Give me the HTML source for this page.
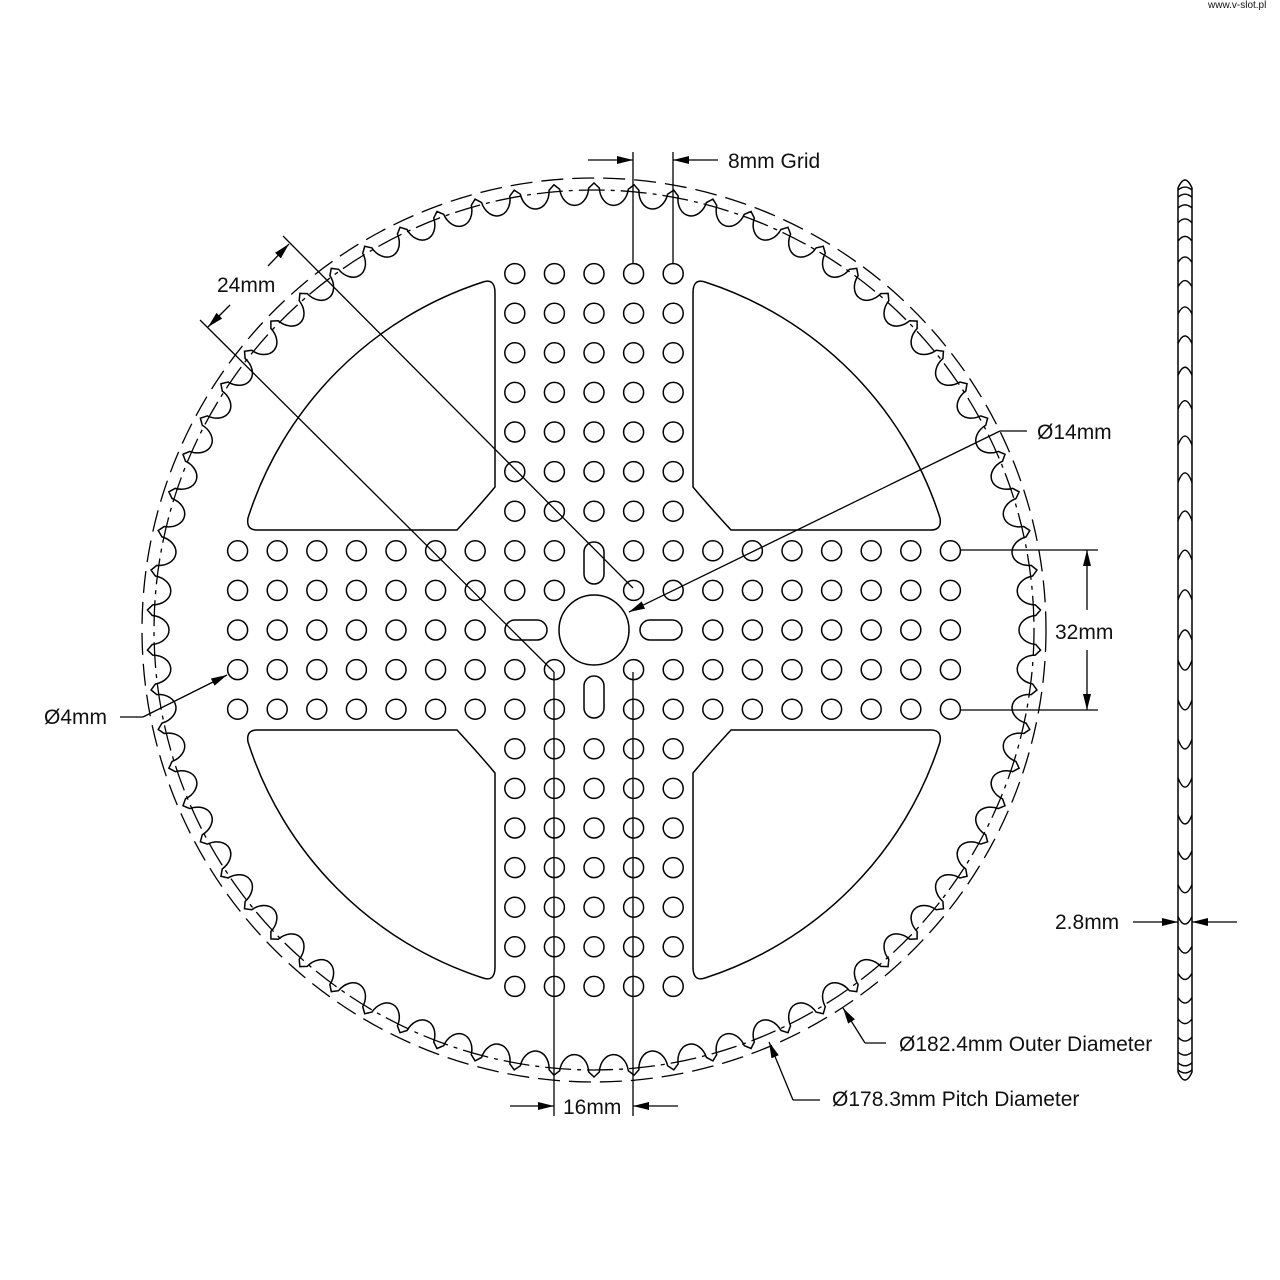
<!DOCTYPE html>
<html><head><meta charset="utf-8">
<style>
html,body{margin:0;padding:0;background:#fff;}
svg{display:block;}
text{font-family:"Liberation Sans",sans-serif;fill:#111;}
</style></head>
<body>
<svg id="s" width="1280" height="1280" viewBox="0 0 1280 1280" xmlns="http://www.w3.org/2000/svg">
<defs>
<marker id="ar" viewBox="0 0 16 8" refX="16" refY="4" markerWidth="16" markerHeight="8" markerUnits="userSpaceOnUse" orient="auto">
<path d="M0,0 L16,4 L0,8 Z" fill="#000"/>
</marker>
</defs>
<g id="main" fill="none" stroke="#000" stroke-width="1.5">
<circle cx="594" cy="630" r="452" stroke-dasharray="22 9" stroke-width="1.3"/>
<circle cx="594" cy="630" r="440" stroke-dasharray="26 6 4 6" stroke-width="1.3"/>
<path id="teeth" d=""/>
<circle cx="594" cy="630" r="35"/>
<rect x="584" y="542" width="20" height="42" rx="10"/>
<rect x="584" y="676" width="20" height="42" rx="10"/>
<rect x="505" y="620" width="42" height="20" rx="10"/>
<rect x="640" y="620" width="42" height="20" rx="10"/>
<g><path d="M483,282 Q495,278 495,293 L495,487 Q480,505 457,530 L257,530 Q246,530 248,518 A365,365 0 0 1 483,282 Z"/></g>
<g transform="translate(1188,0) scale(-1,1)"><path d="M483,282 Q495,278 495,293 L495,487 Q480,505 457,530 L257,530 Q246,530 248,518 A365,365 0 0 1 483,282 Z"/></g>
<g transform="translate(0,1260) scale(1,-1)"><path d="M483,282 Q495,278 495,293 L495,487 Q480,505 457,530 L257,530 Q246,530 248,518 A365,365 0 0 1 483,282 Z"/></g>
<g transform="translate(1188,1260) scale(-1,-1)"><path d="M483,282 Q495,278 495,293 L495,487 Q480,505 457,530 L257,530 Q246,530 248,518 A365,365 0 0 1 483,282 Z"/></g>
<g id="holes"></g>
<path d="M1178,1072 L1178,188 Q1185,172 1192,188 L1192,1072 Q1185,1088 1178,1072 Z"/>
<g id="side" stroke-width="1.4"></g>
</g>
<g fill="none" stroke="#000" stroke-width="1.3">
<line x1="633" y1="152" x2="633" y2="263"/>
<line x1="673" y1="152" x2="673" y2="263"/>
<line x1="588" y1="160" x2="633" y2="160" marker-end="url(#ar)"/>
<line x1="718" y1="160" x2="673" y2="160" marker-end="url(#ar)"/>
<line x1="283" y1="236" x2="633" y2="588"/>
<line x1="200" y1="320" x2="554" y2="672"/>
<line x1="268" y1="266" x2="289" y2="244" marker-end="url(#ar)"/>
<line x1="230" y1="305" x2="208" y2="327" marker-end="url(#ar)"/>
<line x1="1027" y1="431" x2="1000" y2="431"/>
<line x1="1000" y1="431" x2="629" y2="612" marker-end="url(#ar)"/>
<line x1="960" y1="550" x2="1098" y2="550"/>
<line x1="960" y1="710" x2="1098" y2="710"/>
<line x1="1087" y1="610" x2="1087" y2="550" marker-end="url(#ar)"/>
<line x1="1087" y1="650" x2="1087" y2="710" marker-end="url(#ar)"/>
<line x1="120" y1="717" x2="143" y2="717"/>
<line x1="143" y1="717" x2="227" y2="675" marker-end="url(#ar)"/>
<line x1="554" y1="672" x2="554" y2="1116"/>
<line x1="633" y1="672" x2="633" y2="1116"/>
<line x1="510" y1="1106" x2="554" y2="1106" marker-end="url(#ar)"/>
<line x1="678" y1="1106" x2="633" y2="1106" marker-end="url(#ar)"/>
<line x1="865" y1="1043" x2="843" y2="1008" marker-end="url(#ar)"/>
<line x1="865" y1="1043" x2="886" y2="1043"/>
<line x1="793" y1="1100" x2="769" y2="1042" marker-end="url(#ar)"/>
<line x1="793" y1="1100" x2="820" y2="1100"/>
<line x1="1133" y1="922" x2="1178" y2="922" marker-end="url(#ar)"/>
<line x1="1237" y1="922" x2="1192" y2="922" marker-end="url(#ar)"/>
</g>
<g font-size="21">
<text x="728" y="168">8mm Grid</text>
<text x="217" y="292">24mm</text>
<text x="1037" y="439">Ø14mm</text>
<text x="1055" y="639">32mm</text>
<text x="44" y="724">Ø4mm</text>
<text x="563" y="1114">16mm</text>
<text x="899" y="1051">Ø182.4mm Outer Diameter</text>
<text x="832" y="1106">Ø178.3mm Pitch Diameter</text>
<text x="1055" y="929">2.8mm</text>
</g>
<text x="1208" y="8" font-size="10" fill="#555">www.v-slot.pl</text>
</svg>
<script>
(function(){
var NS="http://www.w3.org/2000/svg",cx=594,cy=630,N=70;
function P(r,t){return [cx+r*Math.sin(t),cy-r*Math.cos(t)];}
var step=2*Math.PI/N,d="",rT=447,rE=442,hw=14.5;
var a=hw/rE;
for(var k=0;k<N;k++){
  var t=k*step, tc=t+step/2;
  var p0=P(rT,t), p1=P(rE,tc-a), p2=P(rE,tc+a);
  var rot=(tc*180/Math.PI).toFixed(2);
  d+=(k==0?"M":"L")+p0[0].toFixed(2)+","+p0[1].toFixed(2)+" L"+p1[0].toFixed(2)+","+p1[1].toFixed(2)+
     " A14.6,19 "+rot+" 0 0 "+p2[0].toFixed(2)+","+p2[1].toFixed(2)+" ";
}
d+="Z";
document.getElementById("teeth").setAttribute("d",d);
var g=document.getElementById("holes"),sp=39.6;
for(var i=-9;i<=9;i++)for(var j=-9;j<=9;j++){
  if(Math.abs(i)>2&&Math.abs(j)>2)continue;
  if(i==0&&Math.abs(j)<=2)continue;
  if(j==0&&Math.abs(i)<=2)continue;
  var c=document.createElementNS(NS,"circle");
  c.setAttribute("cx",(cx+i*sp).toFixed(1));c.setAttribute("cy",(cy+j*sp).toFixed(1));c.setAttribute("r","10");
  g.appendChild(c);
}
var sg=document.getElementById("side");
for(var k=0;k<N;k++){
  var t=k*step+step/2;
  if(Math.sin(t)<0.05)continue;
  var y=cy-rT*Math.cos(t);
  var h=Math.max(3,10*Math.sin(t));
  var p=document.createElementNS(NS,"path");
  if(Math.cos(t)>0) p.setAttribute("d","M1178,"+(y+h)+" Q1185,"+(y-h)+" 1192,"+(y+h));
  else p.setAttribute("d","M1178,"+(y-h)+" Q1185,"+(y+h)+" 1192,"+(y-h));
  sg.appendChild(p);
}
})();
</script>
</body></html>
